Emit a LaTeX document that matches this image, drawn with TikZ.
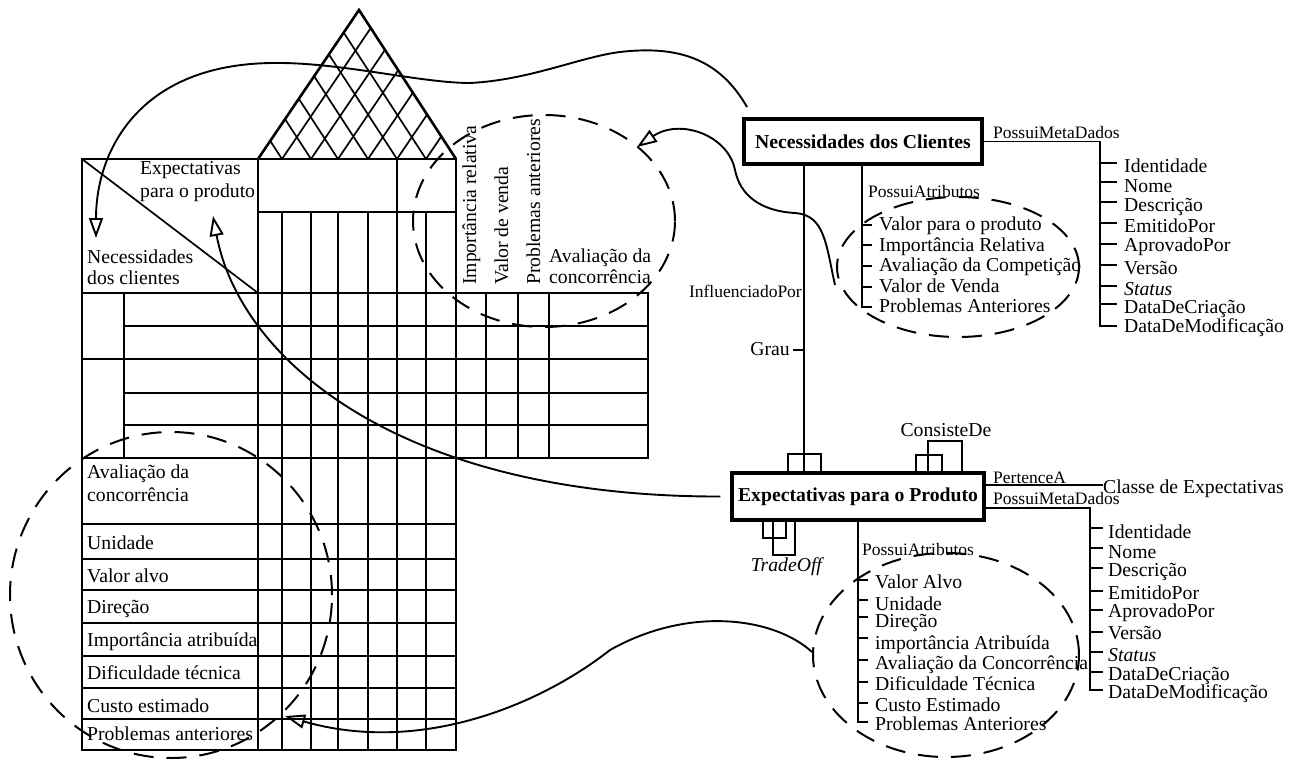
\documentclass[tikz,border=0pt]{standalone}
\usepackage{fontspec}
\setmainfont{Liberation Serif}
\usetikzlibrary{arrows.meta}
\begin{document}
\begin{tikzpicture}[x=1pt,y=-1pt,
  txt/.style={font=\fontsize{19.7}{20}\selectfont, inner sep=0pt},
  lbl/.style={font=\fontsize{17.5}{18}\selectfont, inner sep=0pt},
  thin/.style={line width=1.7pt},
  thk/.style={line width=2.6pt},
  conn/.style={line width=1.9pt},
  entity/.style={draw, line width=3.4pt, inner sep=0pt, fill=white,
    font=\fontsize{19.7}{20}\selectfont\bfseries},
  dsh/.style={line width=2pt, dash pattern=on 20pt off 13pt},
  oarrow/.style={line width=1.9pt, -{Triangle[open, length=20pt, width=14pt]}},
]
\useasboundingbox (0,0) rectangle (1301,760);

% ---------- house of quality ----------
% roof hatching
\begin{scope}
  \clip (258,159) -- (359,10) -- (456,159) -- cycle;
  \foreach \x in {282,311,338,368,397,426} {
    \draw[thin] (\x,159) -- ++(101,-149);
    \draw[thin] (\x,159) -- ++(-97,-149);
  }
\end{scope}
\draw[thk] (258,159) -- (359,10) -- (456,159);

% ceiling and correlation columns
\draw[thin] (258,212) -- (456,212);
\draw[thin] (397,159) -- (397,212);
\foreach \x in {282,311,338,368,397,426} \draw[thin] (\x,212) -- (\x,750);

% room rows
\foreach \y in {326,393,425} \draw[thin] (124,\y) -- (648,\y);
\draw[thin] (82,359) -- (648,359);
\draw[thin] (124,293) -- (124,458);
\foreach \x in {486,518,549} \draw[thin] (\x,293) -- (\x,458);

% basement rows
\foreach \y in {559,590,623,656,688,719} \draw[thin] (82,\y) -- (456,\y);

% corner diagonal
\draw[thin] (82,159) -- (258,293);

% heavy frame
\draw[thk] (82,159) rectangle (456,750);
\draw[thk] (456,293) rectangle (648,458);
\draw[thk] (258,159) -- (258,750);
\draw[thk] (82,293) -- (456,293);
\draw[thk] (82,458) -- (456,458);
\draw[thk] (82,524) -- (456,524);

% house labels
\node[txt, anchor=base west] (hq1) at (140,174) {Expectativas};
\node[txt, anchor=base west] (hq2) at (140,197) {para o produto};
\node[txt, anchor=base west] (hq3) at (87,263) {Necessidades};
\node[txt, anchor=base west] (hq4) at (87,284) {dos clientes};
\node[txt, anchor=base west, rotate=90] (hr1) at (476,285) {Importância relativa};
\node[txt, anchor=base west, rotate=90] (hr2) at (508,285) {Valor de venda};
\node[txt, anchor=base west, rotate=90] (hr3) at (540,285) {Problemas anteriores};
\node[txt, anchor=base west] (hr4) at (549,262) {Avaliação da};
\node[txt, anchor=base west] (hr5) at (549,283) {concorrência};
\foreach \t/\b [count=\i] in {Avaliação da/478, concorrência/501, Unidade/549,
    Valor alvo/582, Direção/613, Importância atribuída/646,
    Dificuldade técnica/679, Custo estimado/712, Problemas anteriores/740}
  \node[txt, anchor=base west] (hb\i) at (87,\b) {\t};

% ---------- entities ----------
\node[entity, minimum width=238pt, minimum height=45pt] (nc) at (863,141.5)
  {Necessidades dos Clientes};
\node[entity, minimum width=252pt, minimum height=47pt] (ep) at (858,496.5)
  {Expectativas para o Produto};

% InfluenciadoPor relation
\coordinate (xi) at (804,0);
\draw[conn] (nc.south -| xi) -- (ep.north -| xi);
\draw[conn] (788,473) |- (821,454) -- (821,473);
\node[lbl, anchor=base east] (inf) at (802,297) {InfluenciadoPor};
\node[txt, anchor=base east] (gr) at (790,355) {Grau};
\draw[conn] (gr.east |- 0,350) ++(3,0) -- (804,350);

% ConsisteDe and TradeOff loops
\draw[conn] (916,473) |- (942,455) -- (942,473);
\draw[conn] (928,473) |- (962,441) -- (962,473);
\node[txt, anchor=base] (cd) at (946,436) {ConsisteDe};
\draw[conn] (763,520) |- (786,538) -- (786,520);
\draw[conn] (773,520) |- (795,555) -- (795,520);
\node[txt, anchor=base] (to) at (787.5,571.7) {\textit{TradeOff}};

% metadata of customer needs
\draw[conn] (nc.east) -- (1100,141.5) -- (1100,325.7) -- (1117,325.7);
\foreach \y in {163.3,181.7,202.3,223.3,244,265,285.7,304.3}
  \draw[conn] (1100,\y) -- (1117,\y);
\node[lbl, anchor=base west] (pm1) at (993,138) {PossuiMetaDados};
\foreach \t/\b [count=\i] in {Identidade/172.7, Nome/192.7, Descrição/211,
    EmitidoPor/232.7, AprovadoPor/251.7, Versão/274, {\textit{Status}}/295,
    DataDeCriação/313.3, DataDeModificação/332.3}
  \node[txt, anchor=base west] (ma\i) at (1124,\b) {\t};

% attributes of customer needs
\draw[conn] (nc.south -| 862,0) -- (862,306.7) -- (872,306.7);
\foreach \y in {225,245,265.7,286.7} \draw[conn] (862,\y) -- (872,\y);
\node[lbl, anchor=base west] (pa1) at (868,197.3) {PossuiAtributos};
\foreach \t/\b [count=\i] in {Valor para o produto/230.7, Importância Relativa/251,
    Avaliação da Competição/271.7, Valor de Venda/292.7, Problemas Anteriores/312.7}
  \node[txt, anchor=base west] (aa\i) at (879,\b) {\t};

% class and metadata of product expectations
\coordinate (ypa) at (0,485);
\coordinate (ypm) at (0,508);
\node[txt, anchor=base west] (cls) at (1103,493) {Classe de Expectativas};
\draw[conn] (ep.east |- ypa) -- (cls.west |- ypa);
\node[lbl, anchor=base west] (pt) at (993,483) {PertenceA};
\draw[conn] (ep.east |- ypm) -- (1090,508) -- (1090,690) -- (1103,690);
\foreach \y in {528.3,548.3,568.3,590.7,610,631.7,652.3,671.7}
  \draw[conn] (1090,\y) -- (1103,\y);
\node[lbl, anchor=base west] (pm2) at (993,504) {PossuiMetaDados};
\foreach \t/\b [count=\i] in {Identidade/538.3, Nome/558.3, Descrição/576.7,
    EmitidoPor/599, AprovadoPor/617.3, Versão/639, {\textit{Status}}/661.7,
    DataDeCriação/680, DataDeModificação/698.3}
  \node[txt, anchor=base west] (mb\i) at (1108,\b) {\t};

% attributes of product expectations
\draw[conn] (ep.south -| 858,0) -- (858,721.7) -- (868,721.7);
\foreach \y in {580,600,616.7,638.3,660,681.7,702.7} \draw[conn] (858,\y) -- (868,\y);
\node[lbl, anchor=base west] (pa2) at (862,555) {PossuiAtributos};
\foreach \t/\b [count=\i] in {Valor Alvo/588.3, Unidade/610, Direção/627.3,
    importância Atribuída/649, Avaliação da Concorrência/669,
    Dificuldade Técnica/690.7, Custo Estimado/711.7, Problemas Anteriores/730.7}
  \node[txt, anchor=base west] (ab\i) at (875,\b) {\t};

% ---------- dashed groupings ----------
\draw[dsh] (544,221) ellipse [x radius=131pt, y radius=106pt];
\draw[dsh] (958,267) ellipse [x radius=121pt, y radius=70pt];
\draw[dsh] (171,595) ellipse [x radius=161pt, y radius=163pt];
\draw[dsh] (946,655) ellipse [x radius=133pt, y radius=102pt];

% ---------- mapping arrows ----------
\coordinate (s1) at (747,107);
\coordinate (t1) at (96,238);
\draw[oarrow] (s1) .. controls (720,60) and (680,45) .. (620,52)
  .. controls (580,57) and (530,80) .. (470,83)
  .. controls (420,83) and (340,62) .. (273,63)
  .. controls (140,64) and (96,150) .. (t1);

\coordinate (s2) at (835,285);
\coordinate (t2) at (637,147);
\draw[oarrow] (s2) .. controls (826,245) and (825,215) .. (795,213)
  .. controls (760,211) and (740,195) .. (735,170)
  .. controls (728,135) and (680,118) .. (t2);

\coordinate (t3) at (213,216);
\draw[oarrow, shorten <=10pt] (ep.west) .. controls (400,497) and (240,360) .. (t3);

\coordinate (s4) at (812,652);
\coordinate (t4) at (285,716);
\draw[oarrow] (s4) .. controls (775,618) and (690,605) .. (610,650)
  .. controls (540,705) and (420,755) .. (t4);
\end{tikzpicture}
\end{document}
